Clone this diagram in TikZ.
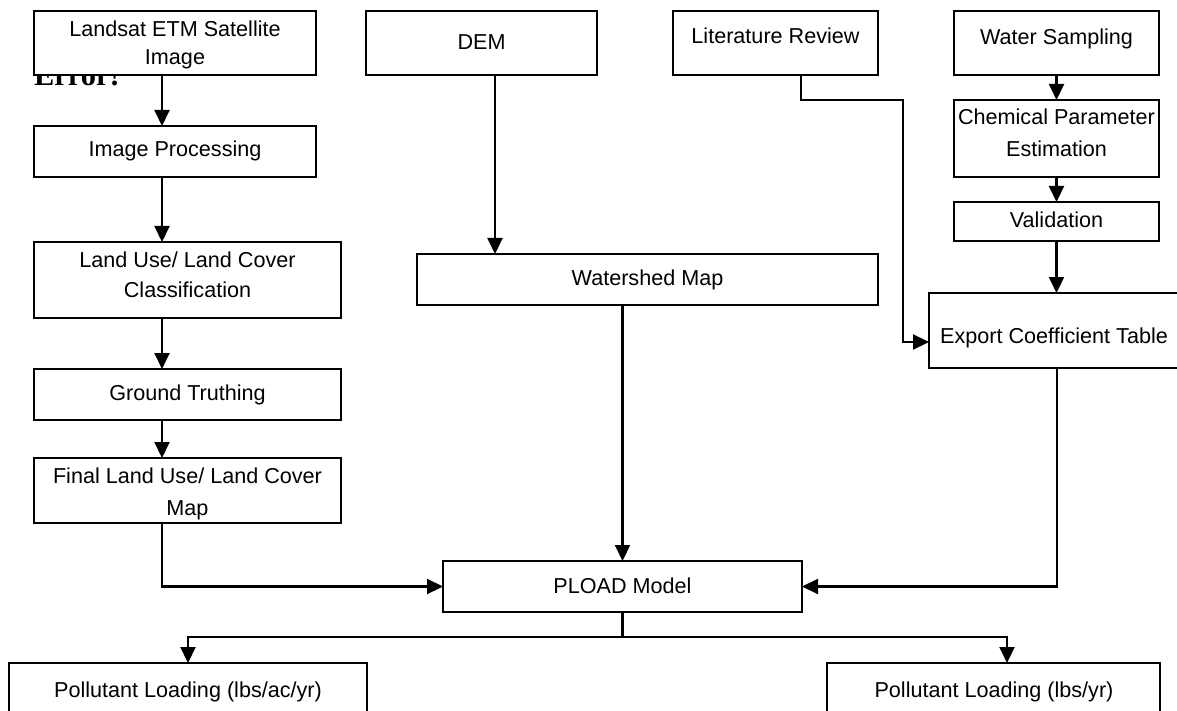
\documentclass[tikz,border=0pt]{standalone}
\usepackage{fontspec}
\setmainfont{Liberation Sans}
\newfontfamily\errfont{Liberation Serif}
\usetikzlibrary{arrows.meta}
\tikzset{
  bx/.style={draw=black, line width=2.1pt, fill=white, rectangle, inner sep=0pt, outer sep=0pt},
  txt/.style={anchor=base, inner sep=0pt, font=\fontsize{21.6}{26}\selectfont},
  arr/.style={line width=2.1pt, -{Triangle[length=16pt,width=15pt]}},
  ln/.style={line width=2.1pt}
}
\begin{document}
\begin{tikzpicture}[x=1pt,y=-1pt]
\useasboundingbox (0,0) rectangle (1177,711);
\begin{scope}
\clip (0,0) rectangle (1177,711);
% stray text partly covered
\node[anchor=base west, inner sep=0pt, font=\errfont\bfseries\fontsize{30.4}{34}\selectfont] (err) at (34,86) {Error!};
% boxes
\node[bx, minimum width=282, minimum height=64] (landsat) at (175,43) {};
\node[bx, minimum width=282, minimum height=51] (imgproc) at (175,151.5) {};
\node[bx, minimum width=307, minimum height=76] (lulc) at (187.5,280) {};
\node[bx, minimum width=307, minimum height=51] (ground) at (187.5,394.5) {};
\node[bx, minimum width=307, minimum height=65] (final) at (187.5,490.5) {};
\node[bx, minimum width=231, minimum height=64] (dem) at (481.5,43) {};
\node[bx, minimum width=461, minimum height=51] (watershed) at (647.5,279.5) {};
\node[bx, minimum width=359, minimum height=51] (pload) at (622.5,586.5) {};
\node[bx, minimum width=205, minimum height=64] (lit) at (775.5,43) {};
\node[bx, minimum width=205, minimum height=64] (water) at (1056.5,43) {};
\node[bx, minimum width=205, minimum height=77] (chem) at (1056.5,138.5) {};
\node[bx, minimum width=205, minimum height=39] (valid) at (1056.5,221.5) {};
\node[bx, minimum width=256, minimum height=75] (export) at (1057,330.5) {};
\node[bx, minimum width=358, minimum height=77] (bl) at (188,701.5) {};
\node[bx, minimum width=333, minimum height=77] (br) at (993.5,701.5) {};
% texts
\node[txt] (t1a) at (175,37) {Landsat ETM Satellite};
\node[txt] (t1b) at (175,65) {Image};
\node[txt] (t2) at (175,157) {Image Processing};
\node[txt] (t3a) at (187.5,267) {Land Use/ Land Cover};
\node[txt] (t3b) at (187.5,297) {Classification};
\node[txt] (t4) at (187.5,400) {Ground Truthing};
\node[txt] (t5a) at (187.5,483) {Final Land Use/ Land Cover};
\node[txt] (t5b) at (187.5,515) {Map};
\node[txt] (t6) at (481.5,50) {DEM};
\node[txt] (t7) at (647.5,285) {Watershed Map};
\node[txt] (t8) at (622.5,593) {PLOAD Model};
\node[txt] (t9) at (775.5,44) {Literature Review};
\node[txt] (t10) at (1056.5,45) {Water Sampling};
\node[txt] (t11a) at (1056.5,125) {Chemical Parameter};
\node[txt] (t11b) at (1056.5,157) {Estimation};
\node[txt] (t12) at (1056.5,228) {Validation};
\node[txt] (t13) at (1054,343) {Export Coefficient Table};
\node[txt] (t14) at (188,697) {Pollutant Loading (lbs/ac/yr)};
\node[txt] (t15) at (994,697) {Pollutant Loading (lbs/yr)};
% helper coordinates
\coordinate (c1) at (162,0);
\coordinate (c2) at (495,0);
\coordinate (c3) at (801,0);
\coordinate (b1) at (903,100);
\coordinate (b2) at (929,342);
\coordinate (c6) at (1057,0);
\coordinate (sp) at (622.5,637);
\coordinate (brx) at (1007,0);
% connectors
\draw[arr] (landsat.south -| c1) -- (imgproc.north -| c1);
\draw[arr] (imgproc.south -| c1) -- (lulc.north -| c1);
\draw[arr] (lulc.south -| c1) -- (ground.north -| c1);
\draw[arr] (ground.south -| c1) -- (final.north -| c1);
\draw[arr] (final.south -| c1) |- (pload.west);
\draw[arr] (dem.south -| c2) -- (watershed.north -| c2);
\draw[arr] (watershed.south -| pload.north) -- (pload.north);
\draw[arr] (lit.south -| c3) |- (b1) |- (b2);
\draw[arr] (water.south) -- (chem.north);
\draw[arr] (chem.south) -- (valid.north);
\draw[arr] (valid.south) -- (valid.south |- export.north);
\draw[arr] (export.south -| c6) |- (pload.east);
\draw[ln] (pload.south) -- (sp);
\draw[arr] (sp) -| (bl.north);
\draw[arr] (sp) -| (br.north -| brx);
\end{scope}
\end{tikzpicture}
\end{document}
